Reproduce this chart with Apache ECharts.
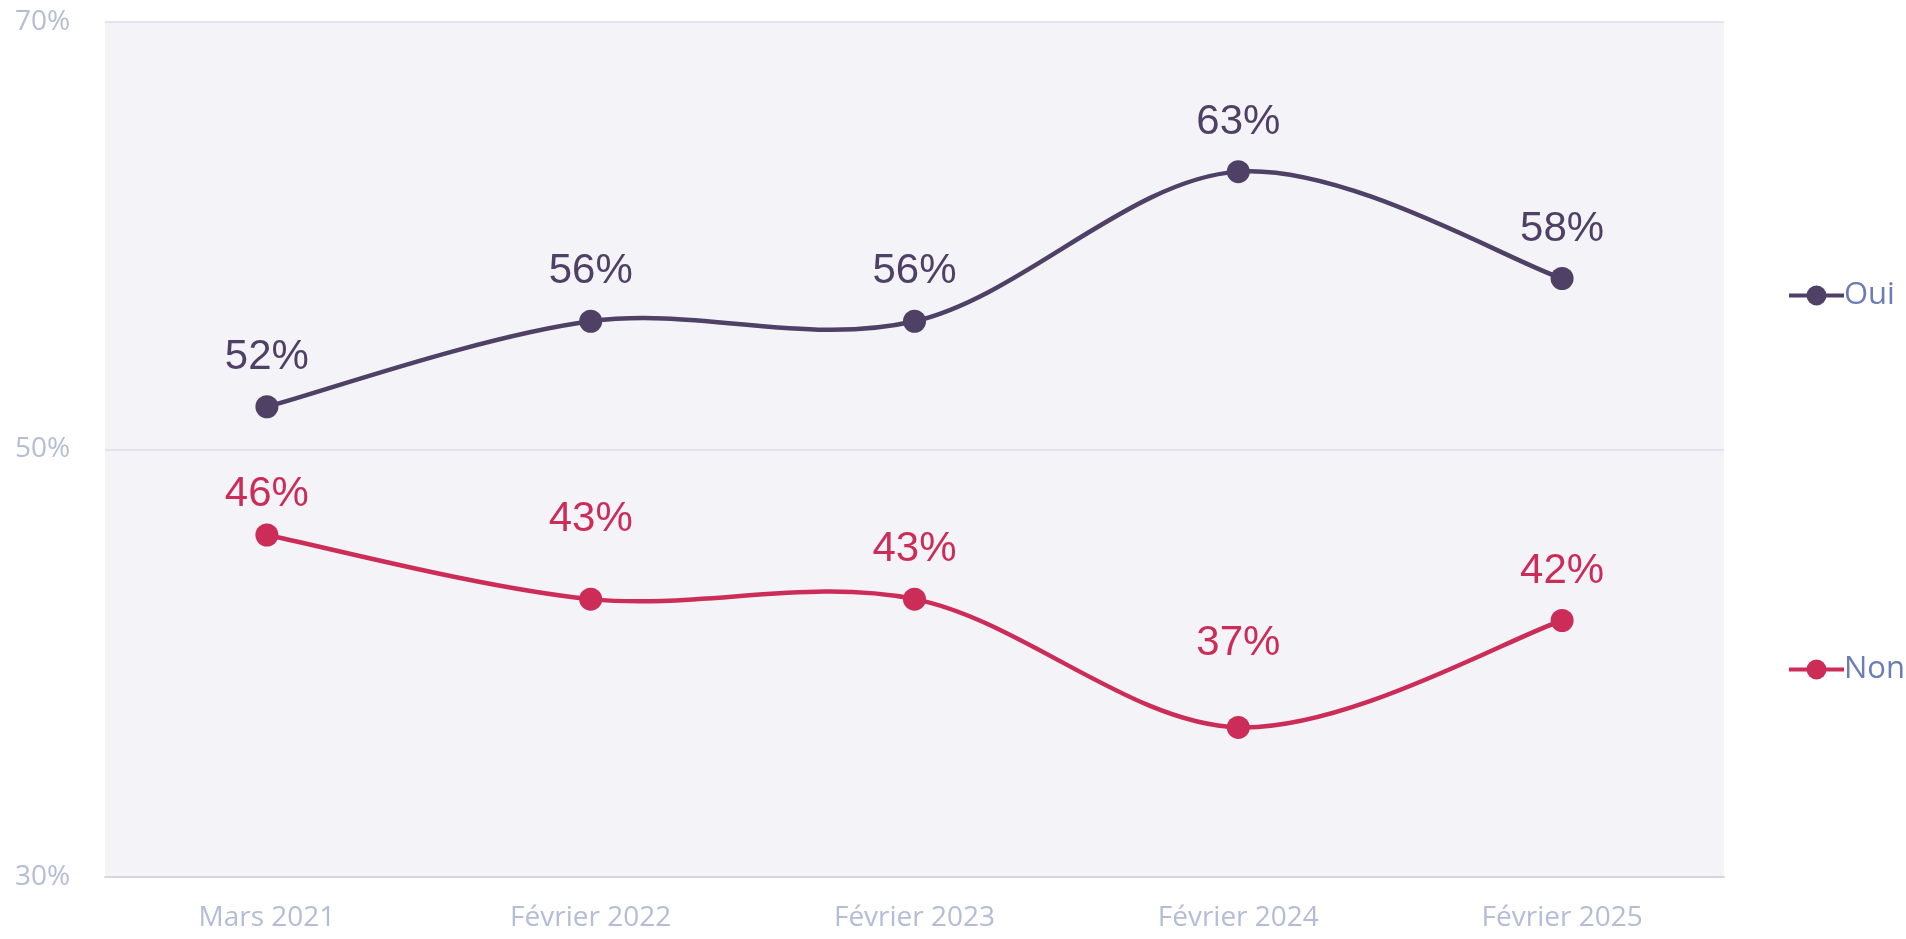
<!DOCTYPE html>
<html>
<head>
<meta charset="utf-8">
<title>Oui / Non</title>
<script src="https://cdn.jsdelivr.net/npm/echarts@6.0.0/dist/echarts.min.js"></script>
<style>
  html, body { margin: 0; padding: 0; background: #fff; }
  #chart { width: 1906px; height: 939px; }
</style>
</head>
<body>
<div id="chart"></div>
<script>
// données
const categories = ['Mars 2021', 'Février 2022', 'Février 2023', 'Février 2024', 'Février 2025']
const ouiValues = [52, 56, 56, 63, 58]
const nonValues = [46, 43, 43, 37, 42]
const yTicks = [30, 50, 70]

// décalage vertical des étiquettes "Non" (px)
const nonLabelShift = [9, -30, 0, -34, 0]

const axisFont = '"Open Sans", sans-serif'
const labelFont = '"Liberation Sans", Arial, sans-serif'

// courbe lissée (catmull-rom) dessinée segment par segment
function curveSeries(name, values, color) {
  return {
    name: name,
    type: 'custom',
    coordinateSystem: 'cartesian2d',
    silent: true,
    z: 2,
    renderItem: function (params, api) {
      const i = params.dataIndex
      const n = values.length
      if (i >= n - 1) return null
      const pt = j => api.coord([Math.max(0, Math.min(n - 1, j)), values[Math.max(0, Math.min(n - 1, j))]])
      const p0 = pt(i - 1), p1 = pt(i), p2 = pt(i + 1), p3 = pt(i + 2)
      const t = 1 / 6
      return {
        type: 'bezierCurve',
        shape: {
          x1: p1[0], y1: p1[1],
          x2: p2[0], y2: p2[1],
          cpx1: p1[0] + (p2[0] - p0[0]) * t,
          cpy1: p1[1] + (p2[1] - p0[1]) * t,
          cpx2: p2[0] - (p3[0] - p1[0]) * t,
          cpy2: p2[1] - (p3[1] - p1[1]) * t
        },
        style: { stroke: color, lineWidth: 4.5, fill: null }
      }
    },
    data: values.map((v, i) => [i, v])
  }
}

function pointSeries(name, values, color, shifts) {
  return {
    name: name,
    type: 'line',
    z: 3,
    symbol: 'circle',
    symbolSize: 23,
    lineStyle: { width: 0, color: color },
    itemStyle: { color: color },
    label: {
      show: true,
      position: 'top',
      distance: 17,
      color: color,
      fontFamily: labelFont,
      fontSize: 42,
      formatter: '{c}%'
    },
    data: values.map((v, i) => ({
      value: v,
      label: { offset: [0, shifts ? shifts[i] : 0] }
    }))
  }
}

const chart = echarts.init(document.getElementById('chart'))
const option = {
  animation: false,
  grid: {
    left: 105,
    right: 182,
    top: 22,
    bottom: 62,
    show: true,
    backgroundColor: '#f4f3f8',
    borderWidth: 0
  },
  legend: {
    orient: 'vertical',
    left: 1782,
    top: 275,
    itemWidth: 55,
    itemHeight: 25,
    itemGap: 343,
    textStyle: {
      color: '#6b7db4',
      fontFamily: axisFont,
      fontSize: 31,
      lineHeight: 25,
      padding: [0, 0, 0, -5]
    },
    lineStyle: { width: 4, opacity: 1 },
    data: ['Oui', 'Non']
  },
  xAxis: {
    type: 'category',
    data: categories,
    boundaryGap: true,
    axisLine: { show: true, lineStyle: { color: '#d6d6dc', width: 2 } },
    axisTick: { show: false },
    axisLabel: {
      color: '#b4bcd8',
      fontFamily: axisFont,
      fontSize: 28,
      margin: 27
    }
  },
  yAxis: {
    type: 'value',
    min: yTicks[0],
    max: yTicks[yTicks.length - 1],
    interval: yTicks[1] - yTicks[0],
    axisLine: { show: false },
    axisTick: { show: false },
    splitLine: { lineStyle: { color: '#dedee8', width: 1.5 } },
    axisLabel: {
      color: '#b4bcd8',
      fontFamily: axisFont,
      fontSize: 28,
      align: 'left',
      margin: 90,
      formatter: '{value}%'
    }
  },
  series: [
    curveSeries('Oui-courbe', ouiValues, '#4f4066'),
    curveSeries('Non-courbe', nonValues, '#cb2d58'),
    pointSeries('Oui', ouiValues, '#4f4066', null),
    pointSeries('Non', nonValues, '#cb2d58', nonLabelShift)
  ]
}
chart.setOption(option)
</script>
</body>
</html>
